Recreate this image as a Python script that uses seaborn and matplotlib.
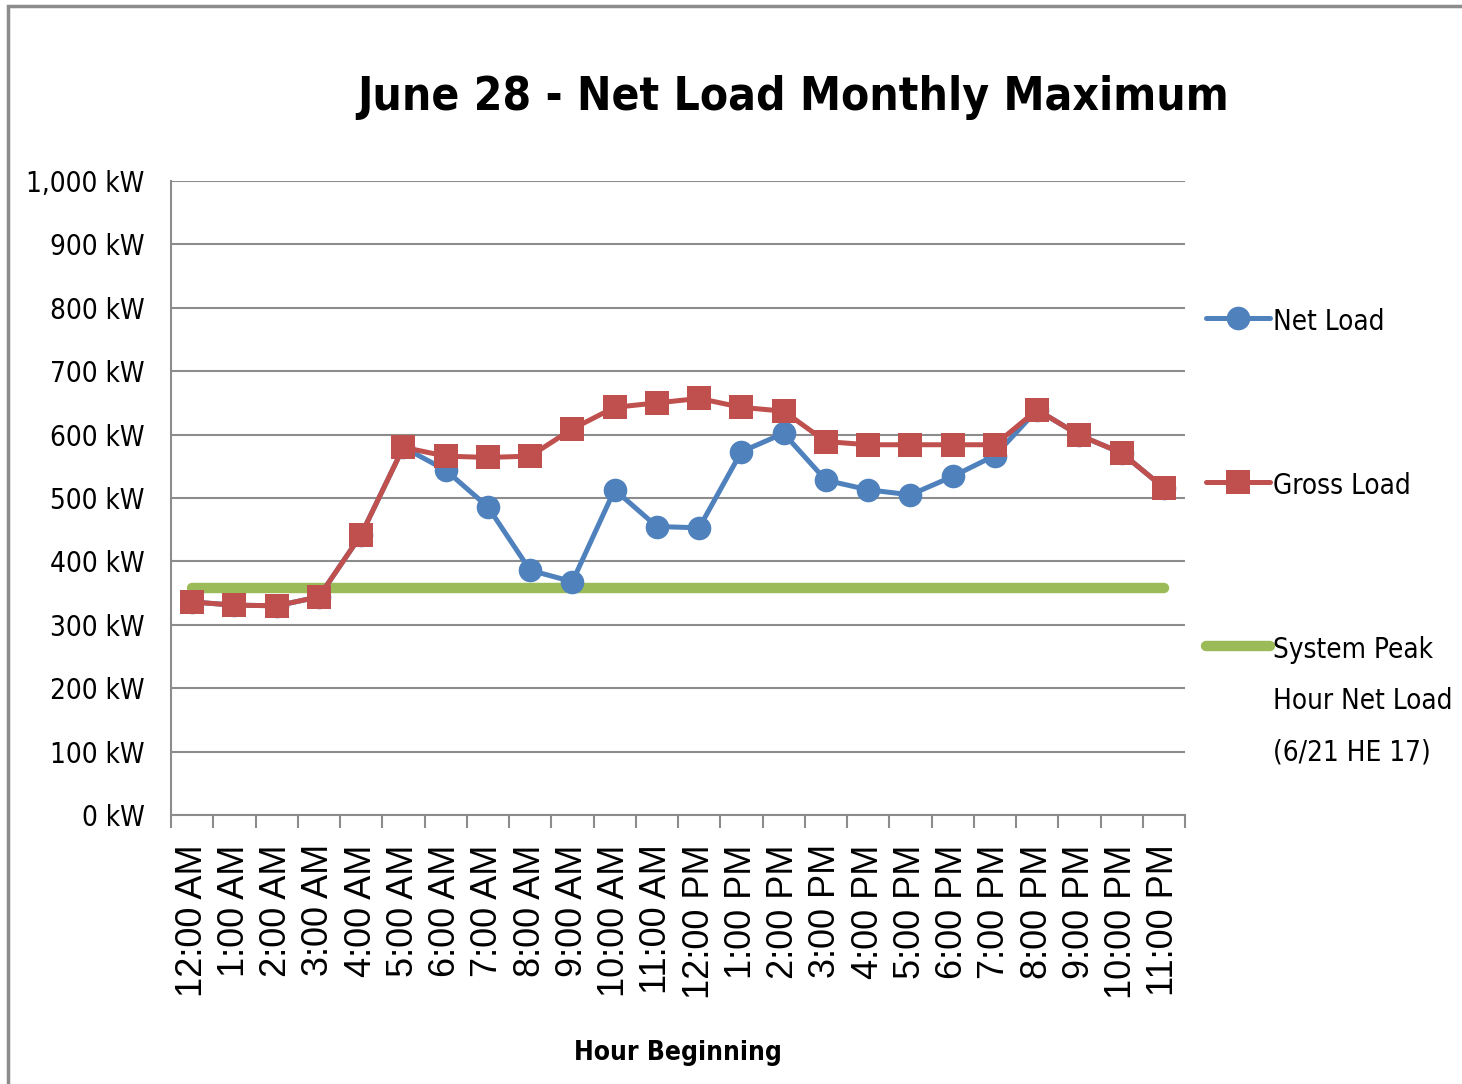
import numpy as np
import pandas as pd
import matplotlib
matplotlib.use("Agg")
import matplotlib.pyplot as plt
import seaborn as sns
from matplotlib.patches import Rectangle
from matplotlib.font_manager import FontProperties

hours = ["12:00 AM", "1:00 AM", "2:00 AM", "3:00 AM", "4:00 AM", "5:00 AM",
         "6:00 AM", "7:00 AM", "8:00 AM", "9:00 AM", "10:00 AM", "11:00 AM",
         "12:00 PM", "1:00 PM", "2:00 PM", "3:00 PM", "4:00 PM", "5:00 PM",
         "6:00 PM", "7:00 PM", "8:00 PM", "9:00 PM", "10:00 PM", "11:00 PM"]
net_load = [336, 331, 330, 344, 442, 580, 544, 486, 386, 368, 513, 455,
            453, 573, 602, 528, 513, 505, 534, 567, 639, 599, 571, 516]
gross_load = [336, 331, 330, 344, 442, 580, 566, 564, 566, 609, 643, 650,
              657, 643, 637, 589, 584, 584, 584, 584, 639, 599, 571, 516]
system_peak = [358] * 24
y_ticks = [0, 100, 200, 300, 400, 500, 600, 700, 800, 900, 1000]
y_labels = ["0 kW", "100 kW", "200 kW", "300 kW", "400 kW", "500 kW",
            "600 kW", "700 kW", "800 kW", "900 kW", "1,000 kW"]

sns.set_theme(style="white")
plt.rcParams["font.family"] = ["DejaVu Sans"]
plt.rcParams["text.color"] = "black"


def cond(size, weight="normal"):
    return FontProperties(family="DejaVu Sans", stretch="condensed", size=size, weight=weight)


W, H = 1462, 1084
pos = np.arange(len(hours))
df = pd.DataFrame({"pos": pos, "net": net_load, "gross": gross_load, "peak": system_peak})

fig = plt.figure(figsize=(W / 100, H / 100), dpi=100)
ax = fig.add_axes([171 / W, 1 - 815 / H, (1185 - 171) / W, (815 - 181) / H])

peak_label = "System Peak\nHour Net Load\n(6/21 HE 17)"
sns.lineplot(data=df, x="pos", y="peak", ax=ax, color="#9BBB59", linewidth=7.5,
             solid_capstyle="round", label=peak_label, zorder=2)
sns.lineplot(data=df, x="pos", y="net", ax=ax, color="#4F81BD", linewidth=3.6,
             marker="o", markersize=17, markeredgewidth=0, label="Net Load", zorder=3)
sns.lineplot(data=df, x="pos", y="gross", ax=ax, color="#C0504D", linewidth=3.6,
             marker="s", markersize=17, markeredgewidth=0, label="Gross Load", zorder=4)

ax.set_xlim(-0.5, len(hours) - 0.5)
ax.set_ylim(0, 1000)
ax.set_yticks(y_ticks)
ax.set_yticklabels(y_labels, color="black", fontproperties=cond(20))
ax.tick_params(axis="y", length=0, pad=19)
ax.yaxis.grid(True, color="#8C8C8C", linewidth=1.5)
ax.xaxis.grid(False)
ax.set_axisbelow(True)

ax.set_xticks(np.arange(len(hours) + 1) - 0.5)
ax.set_xticklabels([])
ax.tick_params(axis="x", which="major", length=9, width=1.5, color="#8C8C8C",
               direction="out", bottom=True)
ax.set_xticks(pos, minor=True)
ax.set_xticklabels(hours, minor=True, rotation=90, color="black",
                   family=["Liberation Sans", "DejaVu Sans"], fontsize=26)
ax.tick_params(axis="x", which="minor", length=0, pad=21, bottom=True)

for s in ["top", "right"]:
    ax.spines[s].set_visible(False)
for s in ["left", "bottom"]:
    ax.spines[s].set_color("#8C8C8C")
    ax.spines[s].set_linewidth(1.5)

ax.set_xlabel("Hour Beginning", fontproperties=cond(19, "bold"), labelpad=30, color="black")
ax.set_ylabel("")

fig.text(793 / W, 1 - 97 / H, "June 28 - Net Load Monthly Maximum", ha="center",
         va="center", fontproperties=cond(33, "bold"), color="black")

handles, labels = ax.get_legend_handles_labels()
order = [labels.index("Net Load"), labels.index("Gross Load"), labels.index(peak_label)]
leg = ax.legend([handles[i] for i in order], [labels[i] for i in order],
                loc="upper left", bbox_to_anchor=(1206 / W, 1 - 308 / H),
                bbox_transform=fig.transFigure, frameon=False, prop=cond(20),
                handlelength=2.3, handletextpad=0.1, labelspacing=4.9, borderaxespad=0,
                borderpad=0)
for t in leg.get_texts():
    t.set_linespacing(2.05)
for col in leg._legend_handle_box.get_children():
    for entry in col.get_children():
        entry.align = "top"

fig.patches.append(Rectangle((8 / W, -0.01), 1.0, 1 - 6 / H + 0.01,
                             transform=fig.transFigure, fill=False,
                             edgecolor="#8C8C8C", linewidth=2.5, figure=fig))

fig.savefig("out.png", dpi=100)
